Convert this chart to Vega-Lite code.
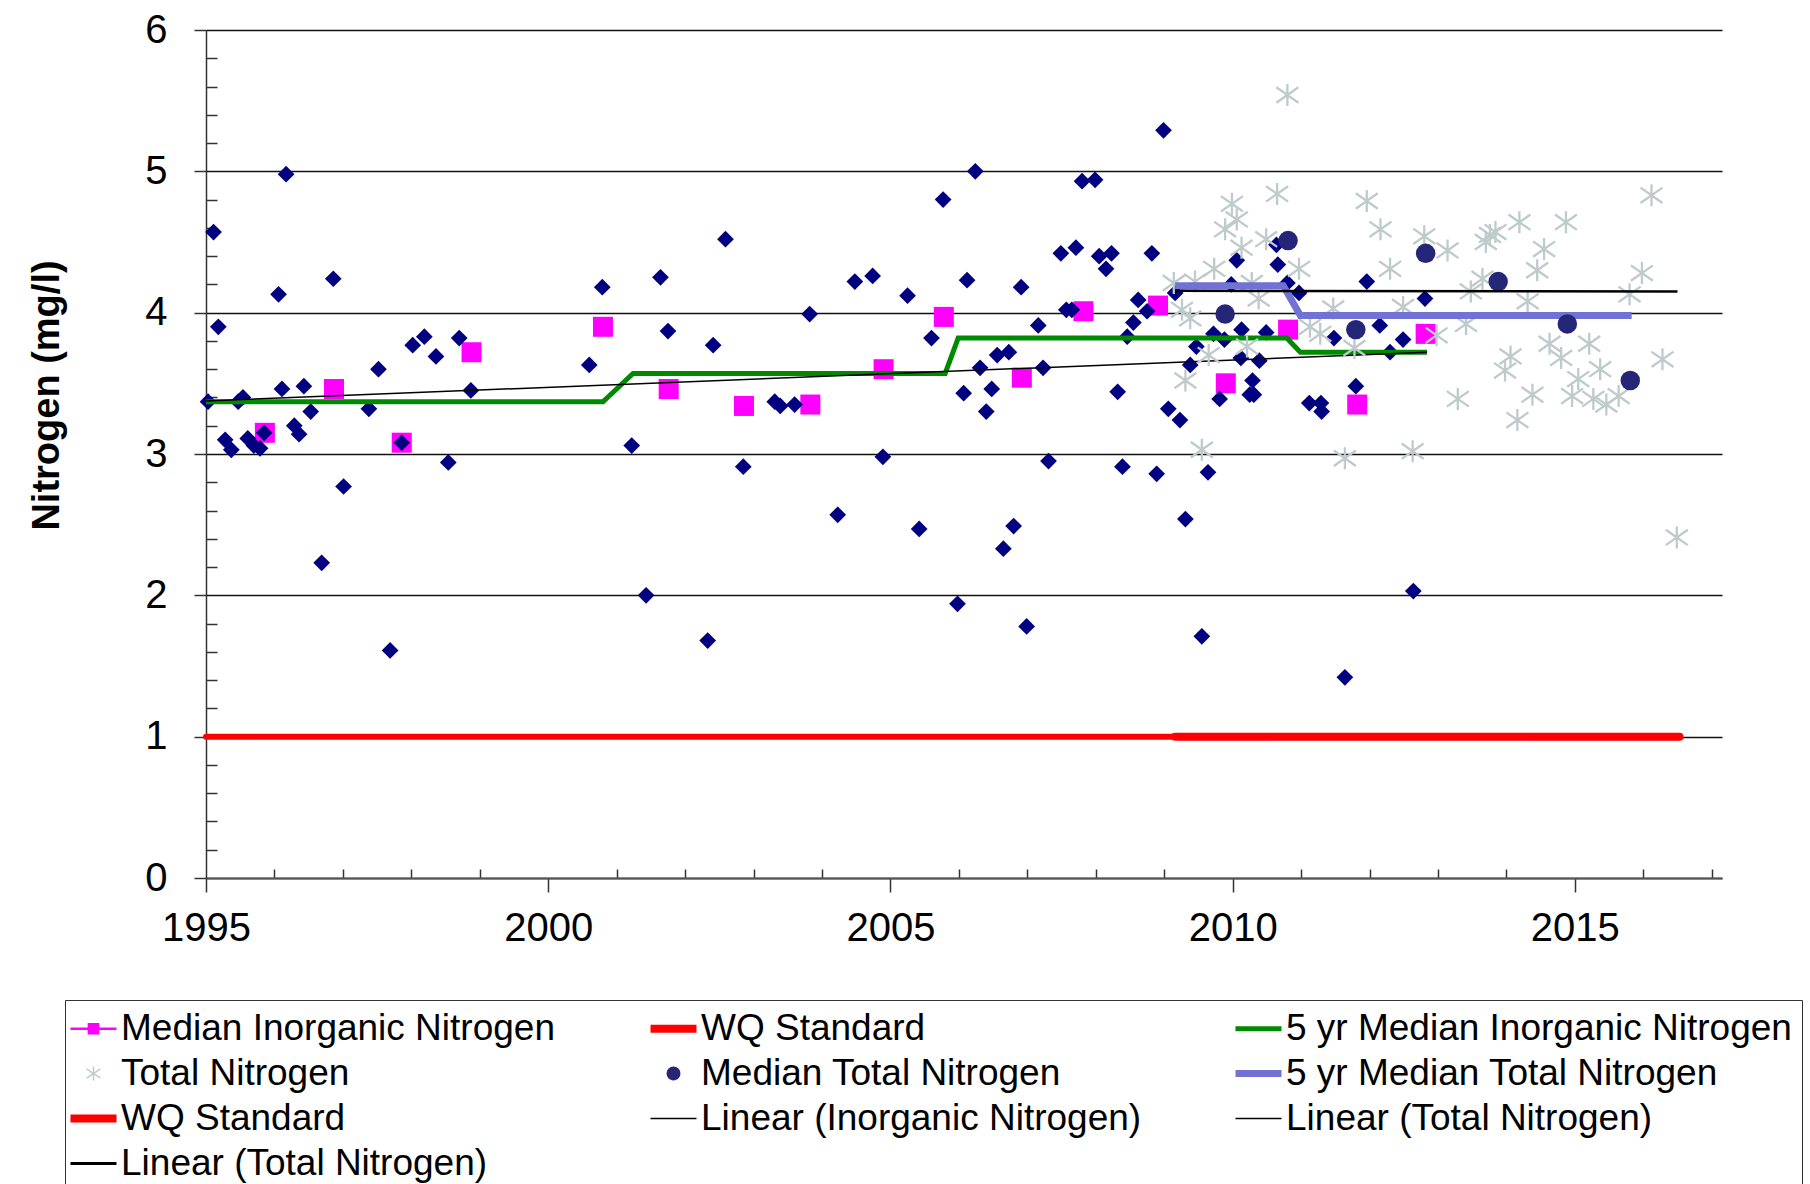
{
  "$schema": "https://vega.github.io/schema/vega-lite/v6.json",
  "width": 1516,
  "height": 848,
  "autosize": {"type": "none"},
  "padding": {"left": 206, "top": 30, "right": 88, "bottom": 306},
  "background": "white",
  "config": {"view": {"stroke": null}, "font": "Liberation Sans"},
  "data": {"values": [
    {"series": "Inorganic Nitrogen", "year": 1995.03, "value": 3.37},
    {"series": "Inorganic Nitrogen", "year": 1995.11, "value": 4.57},
    {"series": "Inorganic Nitrogen", "year": 1995.18, "value": 3.90},
    {"series": "Inorganic Nitrogen", "year": 1995.28, "value": 3.10},
    {"series": "Inorganic Nitrogen", "year": 1995.37, "value": 3.03},
    {"series": "Inorganic Nitrogen", "year": 1995.47, "value": 3.37},
    {"series": "Inorganic Nitrogen", "year": 1995.54, "value": 3.40},
    {"series": "Inorganic Nitrogen", "year": 1995.61, "value": 3.11},
    {"series": "Inorganic Nitrogen", "year": 1995.70, "value": 3.06},
    {"series": "Inorganic Nitrogen", "year": 1995.79, "value": 3.04},
    {"series": "Inorganic Nitrogen", "year": 1995.85, "value": 3.15},
    {"series": "Inorganic Nitrogen", "year": 1996.06, "value": 4.13},
    {"series": "Inorganic Nitrogen", "year": 1996.11, "value": 3.46},
    {"series": "Inorganic Nitrogen", "year": 1996.17, "value": 4.98},
    {"series": "Inorganic Nitrogen", "year": 1996.29, "value": 3.20},
    {"series": "Inorganic Nitrogen", "year": 1996.36, "value": 3.14},
    {"series": "Inorganic Nitrogen", "year": 1996.43, "value": 3.48},
    {"series": "Inorganic Nitrogen", "year": 1996.53, "value": 3.30},
    {"series": "Inorganic Nitrogen", "year": 1996.69, "value": 2.23},
    {"series": "Inorganic Nitrogen", "year": 1996.86, "value": 4.24},
    {"series": "Inorganic Nitrogen", "year": 1997.01, "value": 2.77},
    {"series": "Inorganic Nitrogen", "year": 1997.38, "value": 3.32},
    {"series": "Inorganic Nitrogen", "year": 1997.52, "value": 3.60},
    {"series": "Inorganic Nitrogen", "year": 1997.69, "value": 1.61},
    {"series": "Inorganic Nitrogen", "year": 1997.86, "value": 3.08},
    {"series": "Inorganic Nitrogen", "year": 1998.02, "value": 3.77},
    {"series": "Inorganic Nitrogen", "year": 1998.19, "value": 3.83},
    {"series": "Inorganic Nitrogen", "year": 1998.36, "value": 3.69},
    {"series": "Inorganic Nitrogen", "year": 1998.54, "value": 2.94},
    {"series": "Inorganic Nitrogen", "year": 1998.70, "value": 3.82},
    {"series": "Inorganic Nitrogen", "year": 1998.87, "value": 3.45},
    {"series": "Inorganic Nitrogen", "year": 2000.60, "value": 3.63},
    {"series": "Inorganic Nitrogen", "year": 2000.79, "value": 4.18},
    {"series": "Inorganic Nitrogen", "year": 2001.22, "value": 3.06},
    {"series": "Inorganic Nitrogen", "year": 2001.43, "value": 2.00},
    {"series": "Inorganic Nitrogen", "year": 2001.64, "value": 4.25},
    {"series": "Inorganic Nitrogen", "year": 2001.75, "value": 3.87},
    {"series": "Inorganic Nitrogen", "year": 2002.33, "value": 1.68},
    {"series": "Inorganic Nitrogen", "year": 2002.41, "value": 3.77},
    {"series": "Inorganic Nitrogen", "year": 2002.59, "value": 4.52},
    {"series": "Inorganic Nitrogen", "year": 2002.85, "value": 2.91},
    {"series": "Inorganic Nitrogen", "year": 2003.31, "value": 3.37},
    {"series": "Inorganic Nitrogen", "year": 2003.39, "value": 3.34},
    {"series": "Inorganic Nitrogen", "year": 2003.60, "value": 3.35},
    {"series": "Inorganic Nitrogen", "year": 2003.82, "value": 3.99},
    {"series": "Inorganic Nitrogen", "year": 2004.23, "value": 2.57},
    {"series": "Inorganic Nitrogen", "year": 2004.48, "value": 4.22},
    {"series": "Inorganic Nitrogen", "year": 2004.74, "value": 4.26},
    {"series": "Inorganic Nitrogen", "year": 2004.89, "value": 2.98},
    {"series": "Inorganic Nitrogen", "year": 2005.25, "value": 4.12},
    {"series": "Inorganic Nitrogen", "year": 2005.42, "value": 2.47},
    {"series": "Inorganic Nitrogen", "year": 2005.60, "value": 3.82},
    {"series": "Inorganic Nitrogen", "year": 2005.77, "value": 4.80},
    {"series": "Inorganic Nitrogen", "year": 2005.98, "value": 1.94},
    {"series": "Inorganic Nitrogen", "year": 2006.07, "value": 3.43},
    {"series": "Inorganic Nitrogen", "year": 2006.12, "value": 4.23},
    {"series": "Inorganic Nitrogen", "year": 2006.24, "value": 5.00},
    {"series": "Inorganic Nitrogen", "year": 2006.31, "value": 3.61},
    {"series": "Inorganic Nitrogen", "year": 2006.40, "value": 3.30},
    {"series": "Inorganic Nitrogen", "year": 2006.48, "value": 3.46},
    {"series": "Inorganic Nitrogen", "year": 2006.56, "value": 3.70},
    {"series": "Inorganic Nitrogen", "year": 2006.65, "value": 2.33},
    {"series": "Inorganic Nitrogen", "year": 2006.73, "value": 3.72},
    {"series": "Inorganic Nitrogen", "year": 2006.80, "value": 2.49},
    {"series": "Inorganic Nitrogen", "year": 2006.91, "value": 4.18},
    {"series": "Inorganic Nitrogen", "year": 2006.99, "value": 1.78},
    {"series": "Inorganic Nitrogen", "year": 2007.16, "value": 3.91},
    {"series": "Inorganic Nitrogen", "year": 2007.23, "value": 3.61},
    {"series": "Inorganic Nitrogen", "year": 2007.31, "value": 2.95},
    {"series": "Inorganic Nitrogen", "year": 2007.49, "value": 4.42},
    {"series": "Inorganic Nitrogen", "year": 2007.57, "value": 4.02},
    {"series": "Inorganic Nitrogen", "year": 2007.65, "value": 4.02},
    {"series": "Inorganic Nitrogen", "year": 2007.71, "value": 4.46},
    {"series": "Inorganic Nitrogen", "year": 2007.80, "value": 4.93},
    {"series": "Inorganic Nitrogen", "year": 2007.99, "value": 4.94},
    {"series": "Inorganic Nitrogen", "year": 2008.05, "value": 4.40},
    {"series": "Inorganic Nitrogen", "year": 2008.15, "value": 4.31},
    {"series": "Inorganic Nitrogen", "year": 2008.23, "value": 4.42},
    {"series": "Inorganic Nitrogen", "year": 2008.32, "value": 3.44},
    {"series": "Inorganic Nitrogen", "year": 2008.39, "value": 2.91},
    {"series": "Inorganic Nitrogen", "year": 2008.46, "value": 3.83},
    {"series": "Inorganic Nitrogen", "year": 2008.55, "value": 3.93},
    {"series": "Inorganic Nitrogen", "year": 2008.62, "value": 4.09},
    {"series": "Inorganic Nitrogen", "year": 2008.75, "value": 4.01},
    {"series": "Inorganic Nitrogen", "year": 2008.82, "value": 4.42},
    {"series": "Inorganic Nitrogen", "year": 2008.89, "value": 2.86},
    {"series": "Inorganic Nitrogen", "year": 2008.99, "value": 5.29},
    {"series": "Inorganic Nitrogen", "year": 2009.06, "value": 3.32},
    {"series": "Inorganic Nitrogen", "year": 2009.16, "value": 4.14},
    {"series": "Inorganic Nitrogen", "year": 2009.23, "value": 3.24},
    {"series": "Inorganic Nitrogen", "year": 2009.31, "value": 2.54},
    {"series": "Inorganic Nitrogen", "year": 2009.38, "value": 3.63},
    {"series": "Inorganic Nitrogen", "year": 2009.47, "value": 3.76},
    {"series": "Inorganic Nitrogen", "year": 2009.55, "value": 1.71},
    {"series": "Inorganic Nitrogen", "year": 2009.64, "value": 2.87},
    {"series": "Inorganic Nitrogen", "year": 2009.72, "value": 3.85},
    {"series": "Inorganic Nitrogen", "year": 2009.81, "value": 3.39},
    {"series": "Inorganic Nitrogen", "year": 2009.88, "value": 3.81},
    {"series": "Inorganic Nitrogen", "year": 2009.98, "value": 4.20},
    {"series": "Inorganic Nitrogen", "year": 2010.06, "value": 4.37},
    {"series": "Inorganic Nitrogen", "year": 2010.12, "value": 3.68},
    {"series": "Inorganic Nitrogen", "year": 2010.13, "value": 3.88},
    {"series": "Inorganic Nitrogen", "year": 2010.25, "value": 3.42},
    {"series": "Inorganic Nitrogen", "year": 2010.29, "value": 3.52},
    {"series": "Inorganic Nitrogen", "year": 2010.31, "value": 3.42},
    {"series": "Inorganic Nitrogen", "year": 2010.39, "value": 3.66},
    {"series": "Inorganic Nitrogen", "year": 2010.49, "value": 3.86},
    {"series": "Inorganic Nitrogen", "year": 2010.64, "value": 4.48},
    {"series": "Inorganic Nitrogen", "year": 2010.66, "value": 4.34},
    {"series": "Inorganic Nitrogen", "year": 2010.80, "value": 4.21},
    {"series": "Inorganic Nitrogen", "year": 2010.97, "value": 4.14},
    {"series": "Inorganic Nitrogen", "year": 2011.12, "value": 3.36},
    {"series": "Inorganic Nitrogen", "year": 2011.29, "value": 3.36},
    {"series": "Inorganic Nitrogen", "year": 2011.30, "value": 3.30},
    {"series": "Inorganic Nitrogen", "year": 2011.48, "value": 3.82},
    {"series": "Inorganic Nitrogen", "year": 2011.64, "value": 1.42},
    {"series": "Inorganic Nitrogen", "year": 2011.80, "value": 3.48},
    {"series": "Inorganic Nitrogen", "year": 2011.96, "value": 4.22},
    {"series": "Inorganic Nitrogen", "year": 2012.15, "value": 3.91},
    {"series": "Inorganic Nitrogen", "year": 2012.30, "value": 3.72},
    {"series": "Inorganic Nitrogen", "year": 2012.49, "value": 3.81},
    {"series": "Inorganic Nitrogen", "year": 2012.64, "value": 2.03},
    {"series": "Inorganic Nitrogen", "year": 2012.81, "value": 4.10},

    {"series": "Median Inorganic Nitrogen", "year": 1995.86, "value": 3.15},
    {"series": "Median Inorganic Nitrogen", "year": 1996.87, "value": 3.46},
    {"series": "Median Inorganic Nitrogen", "year": 1997.86, "value": 3.08},
    {"series": "Median Inorganic Nitrogen", "year": 1998.88, "value": 3.72},
    {"series": "Median Inorganic Nitrogen", "year": 2000.80, "value": 3.90},
    {"series": "Median Inorganic Nitrogen", "year": 2001.76, "value": 3.46},
    {"series": "Median Inorganic Nitrogen", "year": 2002.86, "value": 3.34},
    {"series": "Median Inorganic Nitrogen", "year": 2003.83, "value": 3.35},
    {"series": "Median Inorganic Nitrogen", "year": 2004.90, "value": 3.60},
    {"series": "Median Inorganic Nitrogen", "year": 2005.78, "value": 3.97},
    {"series": "Median Inorganic Nitrogen", "year": 2006.92, "value": 3.54},
    {"series": "Median Inorganic Nitrogen", "year": 2007.82, "value": 4.01},
    {"series": "Median Inorganic Nitrogen", "year": 2008.91, "value": 4.05},
    {"series": "Median Inorganic Nitrogen", "year": 2009.90, "value": 3.50},
    {"series": "Median Inorganic Nitrogen", "year": 2010.81, "value": 3.88},
    {"series": "Median Inorganic Nitrogen", "year": 2011.82, "value": 3.35},
    {"series": "Median Inorganic Nitrogen", "year": 2012.82, "value": 3.85},

    {"series": "Median Total Nitrogen", "year": 2009.89, "value": 3.99},
    {"series": "Median Total Nitrogen", "year": 2010.81, "value": 4.51},
    {"series": "Median Total Nitrogen", "year": 2011.80, "value": 3.88},
    {"series": "Median Total Nitrogen", "year": 2012.82, "value": 4.42},
    {"series": "Median Total Nitrogen", "year": 2013.88, "value": 4.22},
    {"series": "Median Total Nitrogen", "year": 2014.89, "value": 3.92},
    {"series": "Median Total Nitrogen", "year": 2015.81, "value": 3.52},

    {"series": "Total Nitrogen", "year": 2009.14, "value": 4.21},
    {"series": "Total Nitrogen", "year": 2009.26, "value": 4.02},
    {"series": "Total Nitrogen", "year": 2009.31, "value": 3.52},
    {"series": "Total Nitrogen", "year": 2009.38, "value": 3.96},
    {"series": "Total Nitrogen", "year": 2009.45, "value": 4.22},
    {"series": "Total Nitrogen", "year": 2009.55, "value": 3.03},
    {"series": "Total Nitrogen", "year": 2009.65, "value": 3.70},
    {"series": "Total Nitrogen", "year": 2009.73, "value": 4.31},
    {"series": "Total Nitrogen", "year": 2009.89, "value": 4.59},
    {"series": "Total Nitrogen", "year": 2009.99, "value": 4.77},
    {"series": "Total Nitrogen", "year": 2010.06, "value": 4.66},
    {"series": "Total Nitrogen", "year": 2010.13, "value": 4.46},
    {"series": "Total Nitrogen", "year": 2010.21, "value": 3.76},
    {"series": "Total Nitrogen", "year": 2010.28, "value": 4.21},
    {"series": "Total Nitrogen", "year": 2010.38, "value": 4.10},
    {"series": "Total Nitrogen", "year": 2010.49, "value": 4.52},
    {"series": "Total Nitrogen", "year": 2010.65, "value": 4.84},
    {"series": "Total Nitrogen", "year": 2010.80, "value": 5.54},
    {"series": "Total Nitrogen", "year": 2010.97, "value": 4.31},
    {"series": "Total Nitrogen", "year": 2011.13, "value": 3.90},
    {"series": "Total Nitrogen", "year": 2011.28, "value": 3.85},
    {"series": "Total Nitrogen", "year": 2011.47, "value": 4.03},
    {"series": "Total Nitrogen", "year": 2011.64, "value": 2.97},
    {"series": "Total Nitrogen", "year": 2011.78, "value": 3.75},
    {"series": "Total Nitrogen", "year": 2011.96, "value": 4.79},
    {"series": "Total Nitrogen", "year": 2012.16, "value": 4.59},
    {"series": "Total Nitrogen", "year": 2012.30, "value": 4.31},
    {"series": "Total Nitrogen", "year": 2012.49, "value": 4.04},
    {"series": "Total Nitrogen", "year": 2012.63, "value": 3.02},
    {"series": "Total Nitrogen", "year": 2012.80, "value": 4.54},
    {"series": "Total Nitrogen", "year": 2012.98, "value": 3.84},
    {"series": "Total Nitrogen", "year": 2013.14, "value": 4.44},
    {"series": "Total Nitrogen", "year": 2013.29, "value": 3.39},
    {"series": "Total Nitrogen", "year": 2013.41, "value": 3.92},
    {"series": "Total Nitrogen", "year": 2013.48, "value": 4.15},
    {"series": "Total Nitrogen", "year": 2013.65, "value": 4.24},
    {"series": "Total Nitrogen", "year": 2013.70, "value": 4.50},
    {"series": "Total Nitrogen", "year": 2013.76, "value": 4.55},
    {"series": "Total Nitrogen", "year": 2013.84, "value": 4.57},
    {"series": "Total Nitrogen", "year": 2013.98, "value": 3.59},
    {"series": "Total Nitrogen", "year": 2014.06, "value": 3.69},
    {"series": "Total Nitrogen", "year": 2014.16, "value": 3.24},
    {"series": "Total Nitrogen", "year": 2014.19, "value": 4.64},
    {"series": "Total Nitrogen", "year": 2014.31, "value": 4.08},
    {"series": "Total Nitrogen", "year": 2014.38, "value": 3.42},
    {"series": "Total Nitrogen", "year": 2014.45, "value": 4.30},
    {"series": "Total Nitrogen", "year": 2014.55, "value": 4.45},
    {"series": "Total Nitrogen", "year": 2014.63, "value": 3.78},
    {"series": "Total Nitrogen", "year": 2014.80, "value": 3.68},
    {"series": "Total Nitrogen", "year": 2014.87, "value": 4.64},
    {"series": "Total Nitrogen", "year": 2014.96, "value": 3.41},
    {"series": "Total Nitrogen", "year": 2015.05, "value": 3.53},
    {"series": "Total Nitrogen", "year": 2015.21, "value": 3.78},
    {"series": "Total Nitrogen", "year": 2015.27, "value": 3.39},
    {"series": "Total Nitrogen", "year": 2015.37, "value": 3.60},
    {"series": "Total Nitrogen", "year": 2015.46, "value": 3.35},
    {"series": "Total Nitrogen", "year": 2015.64, "value": 3.41},
    {"series": "Total Nitrogen", "year": 2015.80, "value": 4.13},
    {"series": "Total Nitrogen", "year": 2015.98, "value": 4.28},
    {"series": "Total Nitrogen", "year": 2016.12, "value": 4.83},
    {"series": "Total Nitrogen", "year": 2016.28, "value": 3.67},
    {"series": "Total Nitrogen", "year": 2016.49, "value": 2.41},

    {"series": "5 yr Median Inorganic Nitrogen", "year": 1995.0, "value": 3.37},
    {"series": "5 yr Median Inorganic Nitrogen", "year": 2000.8, "value": 3.37},
    {"series": "5 yr Median Inorganic Nitrogen", "year": 2001.24, "value": 3.57},
    {"series": "5 yr Median Inorganic Nitrogen", "year": 2005.8, "value": 3.57},
    {"series": "5 yr Median Inorganic Nitrogen", "year": 2005.99, "value": 3.82},
    {"series": "5 yr Median Inorganic Nitrogen", "year": 2010.79, "value": 3.82},
    {"series": "5 yr Median Inorganic Nitrogen", "year": 2010.99, "value": 3.72},
    {"series": "5 yr Median Inorganic Nitrogen", "year": 2012.84, "value": 3.72},

    {"series": "5 yr Median Total Nitrogen", "year": 2009.16, "value": 4.19},
    {"series": "5 yr Median Total Nitrogen", "year": 2010.74, "value": 4.19},
    {"series": "5 yr Median Total Nitrogen", "year": 2010.99, "value": 3.98},
    {"series": "5 yr Median Total Nitrogen", "year": 2015.83, "value": 3.98},

    {"series": "Linear (Inorganic Nitrogen)", "year": 1995.0, "value": 3.375},
    {"series": "Linear (Inorganic Nitrogen)", "year": 2012.84, "value": 3.72},

    {"series": "Linear (Total Nitrogen)", "year": 2009.16, "value": 4.155},
    {"series": "Linear (Total Nitrogen)", "year": 2016.5, "value": 4.15},

    {"series": "WQ Standard", "year": 1995.0, "value": 1},
    {"series": "WQ Standard", "year": 2012.84, "value": 1},
    {"series": "WQ Standard ", "year": 2009.16, "value": 1},
    {"series": "WQ Standard ", "year": 2016.53, "value": 1}
  ]},
  "encoding": {
    "x": {
      "field": "year", "type": "quantitative",
      "scale": {"domain": [1995, 2017.15], "nice": false, "zero": false},
      "axis": {
        "title": null,
        "values": [1995,1996,1997,1998,1999,2000,2001,2002,2003,2004,2005,2006,2007,2008,2009,2010,2011,2012,2013,2014,2015,2016,2017],
        "labelExpr": "datum.value % 5 === 0 ? '' + datum.value : ''",
        "tickSize": {"condition": {"test": "datum.value % 5 !== 0", "value": -9}, "value": 14},
        "grid": false,
        "domainColor": "#555555", "domainWidth": 2,
        "tickColor": "#333333", "tickWidth": 1.5,
        "labelFont": "Liberation Sans", "labelFontSize": 40, "labelColor": "#000000",
        "labelPadding": 16, "labelFlush": false, "labelOverlap": false
      }
    },
    "y": {
      "field": "value", "type": "quantitative",
      "scale": {"domain": [0, 6], "nice": false, "zero": true},
      "axis": {
        "title": "Nitrogen (mg/l)",
        "values": [0,0.2,0.4,0.6,0.8,1,1.2,1.4,1.6,1.8,2,2.2,2.4,2.6,2.8,3,3.2,3.4,3.6,3.8,4,4.2,4.4,4.6,4.8,5,5.2,5.4,5.6,5.8,6],
        "labelExpr": "abs(datum.value - round(datum.value)) > 0.01 ? '' : '' + round(datum.value)",
        "tickSize": {"condition": {"test": "abs(datum.value - round(datum.value)) > 0.01", "value": -11}, "value": 12},
        "grid": true,
        "gridColor": "#111111", "gridWidth": 1.3,
        "gridOpacity": {"condition": {"test": "abs(datum.value - round(datum.value)) > 0.01", "value": 0}, "value": 1},
        "domainColor": "#333333", "domainWidth": 1.5,
        "tickColor": "#333333", "tickWidth": 1.5,
        "labelFont": "Liberation Sans", "labelFontSize": 40, "labelColor": "#000000",
        "labelPadding": 27, "labelOverlap": false,
        "titleFont": "Liberation Sans", "titleFontSize": 38, "titleFontWeight": "bold", "titleColor": "#000000",
        "titleX": -148, "titleY": 365, "titleAngle": -90, "titleBaseline": "alphabetic", "titleAlign": "center"
      }
    },
    "color": {
      "field": "series", "type": "nominal",
      "scale": {
        "domain": ["Median Inorganic Nitrogen", "WQ Standard", "5 yr Median Inorganic Nitrogen", "Total Nitrogen", "Median Total Nitrogen", "5 yr Median Total Nitrogen", "WQ Standard ", "Linear (Inorganic Nitrogen)", "Linear (Total Nitrogen)", "Linear (Total Nitrogen) ", "Inorganic Nitrogen"],
        "range": ["#ff00ff", "#ff0000", "#008a00", "#bfcaca", "#262678", "#7272d4", "#ff0000", "#000000", "#000000", "#000000", "#000080"]
      },
      "legend": {
        "values": ["Median Inorganic Nitrogen", "WQ Standard", "5 yr Median Inorganic Nitrogen", "Total Nitrogen", "Median Total Nitrogen", "5 yr Median Total Nitrogen", "WQ Standard ", "Linear (Inorganic Nitrogen)", "Linear (Total Nitrogen)", "Linear (Total Nitrogen) "],
        "title": null,
        "orient": "none",
        "legendX": -141,
        "legendY": 970,
        "columns": 3,
        "direction": "horizontal",
        "columnPadding": 79,
        "rowPadding": 7,
        "gridAlign": "each",
        "symbolSize": 2116,
        "labelFont": "Liberation Sans",
        "labelFontSize": 37,
        "labelColor": "#000000",
        "labelLimit": 900,
        "labelOffset": 9,
        "padding": 10,
        "strokeColor": "#333333",
        "encode": {
          "symbols": {
            "update": {
              "shape": {"signal": "datum.value === 'Median Inorganic Nitrogen' ? 'M-1,0H1M-0.2,-0.2H0.2V0.2H-0.2Z' : datum.value === 'Total Nitrogen' ? 'M0,-0.3V0.3M-0.3,-0.2L0.3,0.2M-0.3,0.2L0.3,-0.2' : datum.value === 'Median Total Nitrogen' ? 'M-0.3,0A0.3,0.3,0,1,0,0.3,0A0.3,0.3,0,1,0,-0.3,0Z' : 'M-1,0H1'"},
              "size": {"value": 2116},
              "fill": {"signal": "datum.value === 'Median Inorganic Nitrogen' ? '#ff00ff' : datum.value === 'Median Total Nitrogen' ? '#262678' : 'transparent'"},
              "stroke": {"signal": "scale('color', datum.value)"},
              "strokeWidth": {"signal": "datum.value === 'WQ Standard' || datum.value === 'WQ Standard ' ? 8 : datum.value === '5 yr Median Inorganic Nitrogen' ? 5 : datum.value === '5 yr Median Total Nitrogen' ? 7 : datum.value === 'Linear (Total Nitrogen) ' ? 3 : datum.value === 'Median Total Nitrogen' ? 0 : datum.value === 'Median Inorganic Nitrogen' ? 2.5 : 1.5"},
              "opacity": {"value": 1},
              "fillOpacity": {"value": 1},
              "strokeOpacity": {"value": 1}
            }
          }
        }
      }
    }
  },
  "layer": [
    {
      "transform": [{"filter": "datum.series === 'WQ Standard'"}],
      "mark": {"type": "line", "strokeWidth": 6, "strokeCap": "round"}
    },
    {
      "transform": [{"filter": "datum.series === 'WQ Standard '"}],
      "mark": {"type": "line", "strokeWidth": 8, "strokeCap": "round"}
    },
    {
      "transform": [{"filter": "datum.series === 'Median Inorganic Nitrogen'"}],
      "mark": {"type": "point", "shape": "square", "filled": true, "size": 400, "opacity": 1}
    },
    {
      "transform": [{"filter": "datum.series === 'Inorganic Nitrogen'"}],
      "mark": {"type": "point", "shape": "diamond", "filled": true, "size": 280, "opacity": 1}
    },
    {
      "transform": [{"filter": "datum.series === '5 yr Median Inorganic Nitrogen'"}],
      "mark": {"type": "line", "strokeWidth": 5}
    },
    {
      "transform": [{"filter": "datum.series === 'Linear (Inorganic Nitrogen)'"}],
      "mark": {"type": "line", "strokeWidth": 1.5}
    },
    {
      "transform": [{"filter": "datum.series === 'Total Nitrogen'"}],
      "mark": {"type": "point", "shape": "M0,-1V1M-1,-0.7L1,0.7M-1,0.7L1,-0.7", "filled": false, "size": 484, "strokeWidth": 2.3, "opacity": 1}
    },
    {
      "transform": [{"filter": "datum.series === '5 yr Median Total Nitrogen'"}],
      "mark": {"type": "line", "strokeWidth": 7}
    },
    {
      "transform": [{"filter": "datum.series === 'Median Total Nitrogen'"}],
      "mark": {"type": "point", "shape": "circle", "filled": true, "size": 380, "opacity": 1}
    },
    {
      "transform": [{"filter": "datum.series === 'Linear (Total Nitrogen)'"}],
      "mark": {"type": "line", "strokeWidth": 2.5}
    }
  ]
}
